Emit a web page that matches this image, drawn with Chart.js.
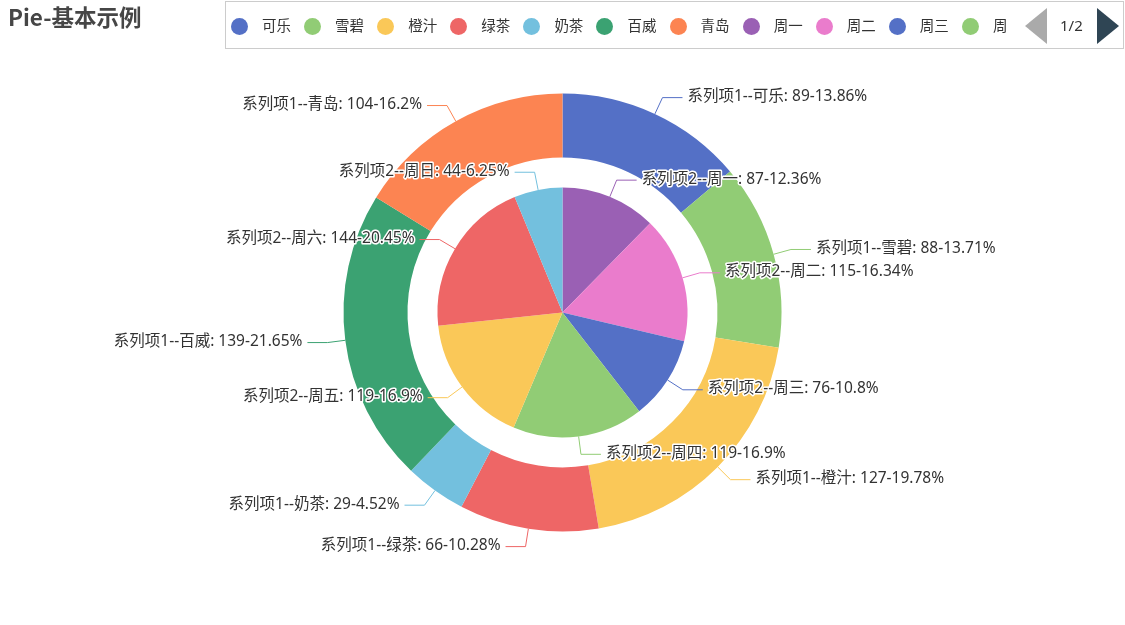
<!DOCTYPE html>
<html>
<head>
<meta charset="utf-8">
<script src="https://cdn.jsdelivr.net/npm/chart.js@4.4.1/dist/chart.umd.min.js"></script>
<style>
  body { margin: 0; background: #fff; font-family: "Noto Sans", "Noto Sans CJK SC", sans-serif; }
  #wrap { position: relative; width: 1125px; height: 625px; }
  #title { position: absolute; left: 8px; top: 0px; font-size: 22.5px; font-weight: bold; color: #464646; font-family: "Noto Sans CJK SC", sans-serif; }
  #legend { position: absolute; left: 225px; top: 1px; width: 897px; height: 46px; border: 1.5px solid #ccc; }
  #items { position: absolute; left: 5px; top: 0; width: 776px; height: 46px; overflow: hidden; white-space: nowrap; font-size: 0; }
  .item { display: inline-block; width: 73.1px; height: 46px; line-height: 46px; font-size: 14.5px; color: #333; font-family: "Noto Sans CJK SC", sans-serif; }
  .dot { display: inline-block; width: 17px; height: 17px; border-radius: 50%; vertical-align: middle; margin-right: 14px; position: relative; top: -1px; }
  #prev { position: absolute; left: 799px; top: 6px; width: 0; height: 0; border-top: 18px solid transparent; border-bottom: 18px solid transparent; border-right: 22px solid #aaa; }
  #page { position: absolute; left: 834px; top: 0; line-height: 46px; font-size: 15px; color: #333; }
  #next { position: absolute; left: 871px; top: 6px; width: 0; height: 0; border-top: 18px solid transparent; border-bottom: 18px solid transparent; border-left: 22px solid #2f4554; }
</style>
</head>
<body>
<div id="wrap">
  <canvas id="pieChart" width="1125" height="625"></canvas>
  <div id="title">Pie-基本示例</div>
  <div id="legend">
    <div id="items"></div>
    <div id="prev"></div>
    <div id="page">1/2</div>
    <div id="next"></div>
  </div>
</div>
<script>
'use strict'
var drinks = ['可乐', '雪碧', '橙汁', '绿茶', '奶茶', '百威', '青岛'];
var drinkValues = [89, 88, 127, 66, 29, 139, 104];
var drinkColors = ['#5470c6', '#91cc75', '#fac858', '#ee6666', '#73c0de', '#3ba272', '#fc8452'];

var days = ['周一', '周二', '周三', '周四', '周五', '周六', '周日'];
var dayValues = [87, 115, 76, 119, 119, 144, 44];
var dayColors = ['#9a60b4', '#ea7ccc', '#5470c6', '#91cc75', '#fac858', '#ee6666', '#73c0de'];

var seriesNames = ['系列项1', '系列项2'];

// legend (scrolling legend, page 1 of 2)
var items = document.getElementById('items');
drinks.concat(days).forEach(function(name, i) {
    var color = i < drinks.length ? drinkColors[i] : dayColors[i - drinks.length];
    var el = document.createElement('span');
    el.className = 'item';
    el.innerHTML = '<span class="dot" style="background:' + color + '"></span>' + name;
    items.appendChild(el);
});

function fmtPct(v, total) {
    return String(parseFloat((v / total * 100).toFixed(2)));
}

var labelPlugin = {
    id: 'outsideLabels',
    afterDatasetsDraw: function(chart) {
        var ctx = chart.ctx;
        [0, 2].forEach(function(di) {
            var ds = chart.data.datasets[di];
            var meta = chart.getDatasetMeta(di);
            var total = ds.data.reduce(function(a, b) { return a + b; }, 0);
            meta.data.forEach(function(arc, i) {
                var p = arc.getProps(['x', 'y', 'startAngle', 'endAngle', 'outerRadius'], true);
                var mid = (p.startAngle + p.endAngle) / 2;
                var c = Math.cos(mid), s = Math.sin(mid);
                var x0 = p.x + p.outerRadius * c, y0 = p.y + p.outerRadius * s;
                var x1 = p.x + (p.outerRadius + 18) * c, y1 = p.y + (p.outerRadius + 18) * s;
                var dir = c >= 0 ? 1 : -1;
                var x2 = x1 + dir * 20;
                ctx.save();
                ctx.strokeStyle = ds.backgroundColor[i];
                ctx.lineWidth = 1;
                ctx.beginPath();
                ctx.moveTo(x0, y0);
                ctx.lineTo(x1, y1);
                ctx.lineTo(x2, y1);
                ctx.stroke();
                var text = ds.label + '--' + ds.names[i] + ': ' + ds.data[i] + '-' + fmtPct(ds.data[i], total) + '%';
                ctx.font = '15.5px "Noto Sans", "Noto Sans CJK SC", sans-serif';
                ctx.textAlign = dir > 0 ? 'left' : 'right';
                ctx.textBaseline = 'middle';
                ctx.lineJoin = 'round';
                ctx.strokeStyle = '#fff';
                ctx.lineWidth = 3;
                ctx.strokeText(text, x2 + dir * 5, y1 - 1);
                ctx.fillStyle = '#333';
                ctx.fillText(text, x2 + dir * 5, y1 - 1);
                ctx.restore();
            });
        });
    }
};

var ctx = document.getElementById('pieChart');
var myPieChart = new Chart(ctx, {
    type: 'doughnut',
    data: {
        labels: drinks,
        datasets: [{
            label: seriesNames[0],
            names: drinks,
            data: drinkValues,
            backgroundColor: drinkColors,
            borderWidth: 0,
            weight: 64
        }, {
            // empty gap between the ring and the inner pie
            label: 'gap',
            data: [1],
            backgroundColor: ['rgba(0,0,0,0)'],
            borderWidth: 0,
            weight: 30
        }, {
            label: seriesNames[1],
            names: days,
            data: dayValues,
            backgroundColor: dayColors,
            borderWidth: 0,
            weight: 125
        }]
    },
    options: {
        responsive: false,
        animation: false,
        cutout: 0,
        radius: 219,
        layout: { padding: 0 },
        plugins: {
            legend: { display: false },
            tooltip: { enabled: false }
        }
    },
    plugins: [labelPlugin]
});
</script>
</body>
</html>
